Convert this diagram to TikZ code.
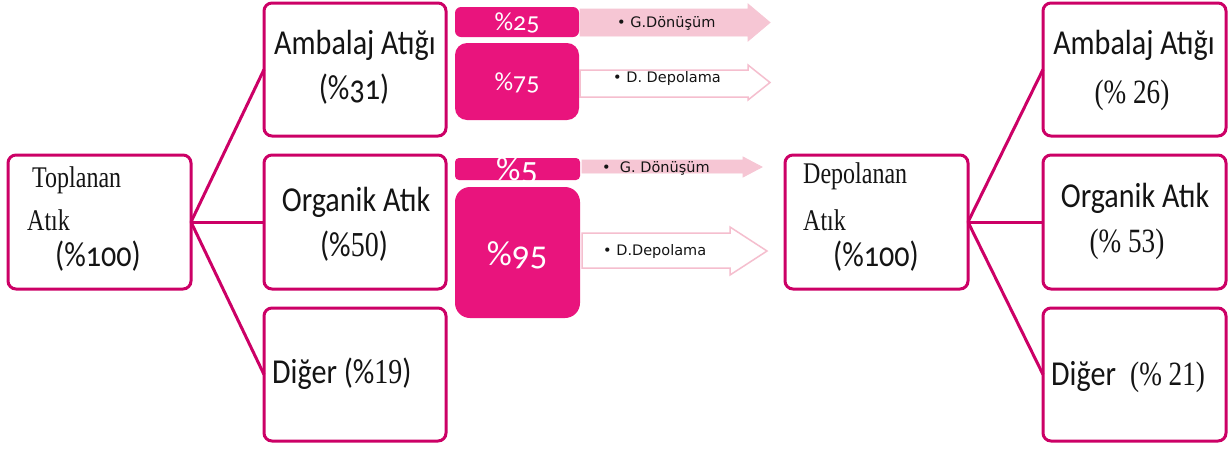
\documentclass[tikz,border=0pt]{standalone}
\usepackage{fontspec}
\newfontfamily\calf[FakeStretch=0.86]{Carlito}
\newfontfamily\calold[FakeStretch=0.86,Numbers=OldStyle]{Carlito}
\newfontfamily\pinkf[Numbers=OldStyle]{Carlito}
\newfontfamily\tmsf[FakeStretch=0.8]{Liberation Serif}
\newfontfamily\lblf{DejaVu Sans}
\definecolor{frame}{RGB}{204,0,102}
\definecolor{hotpink}{RGB}{233,20,125}
\definecolor{palepink}{RGB}{246,198,212}
\definecolor{arrowline}{RGB}{245,190,206}
\definecolor{ink}{RGB}{20,20,20}
\tikzset{
  wbox/.style={draw=frame, line width=3pt, rounded corners=8pt, fill=white, outer sep=0pt},
  pbox/.style={fill=hotpink, rounded corners=#1},
  pbox/.default=7pt,
  link/.style={draw=frame, line width=3pt},
  fullarrow/.style={fill=palepink, draw=palepink, line width=0.8pt},
  openarrow/.style={fill=white, draw=arrowline, line width=1.5pt},
  big/.style={font=\calf\fontsize{35}{37}\selectfont, text=ink, inner sep=0pt},
  bigold/.style={font=\calold\fontsize{35}{37}\selectfont, text=ink, inner sep=0pt},
  serif/.style={font=\tmsf\fontsize{30}{32}\selectfont, text=ink, inner sep=0pt},
  serifbig/.style={font=\tmsf\fontsize{34}{36}\selectfont, text=ink, inner sep=0pt},
  pct/.style={font=\pinkf\fontsize{#1}{#1}\selectfont, text=white, inner sep=0pt},
  lbl/.style={font=\lblf\fontsize{14.5}{16}\selectfont, text=ink, inner sep=0pt, anchor=base west},
}
\begin{document}
\begin{tikzpicture}[x=1pt,y=-1pt]
\useasboundingbox[fill=white] (0,0) rectangle (1229,448);

% main boxes
\node[wbox, minimum width=183pt, minimum height=134pt] (top)  at (99.5,222) {};
\node[wbox, minimum width=182pt, minimum height=133pt] (ambL) at (355,69.5) {};
\node[wbox, minimum width=182pt, minimum height=134pt] (orgL) at (355,222) {};
\node[wbox, minimum width=182pt, minimum height=133pt] (digL) at (355,374.5) {};
\node[wbox, minimum width=183pt, minimum height=134pt] (dep)  at (876.5,222) {};
\node[wbox, minimum width=183pt, minimum height=133pt] (ambR) at (1134.5,69.5) {};
\node[wbox, minimum width=183pt, minimum height=134pt] (orgR) at (1134.5,222) {};
\node[wbox, minimum width=183pt, minimum height=133pt] (digR) at (1134.5,374.5) {};

% connectors
\draw[link] (top.east) -- (ambL.west);
\draw[link] (top.east) -- (orgL.west);
\draw[link] (top.east) -- (digL.west);
\draw[link] (dep.east) -- (ambR.west);
\draw[link] (dep.east) -- (orgR.west);
\draw[link] (dep.east) -- (digR.west);

% arrows
\draw[fullarrow] (580,9) -- (748,9) -- (748,4) -- (770,22.5) -- (748,41) -- (748,36) -- (580,36) -- cycle;
\draw[openarrow] (580,70) -- (748,70) -- (748,65) -- (770,82.5) -- (748,100) -- (748,97) -- (580,97) -- cycle;
\draw[fullarrow] (582,160) -- (743,160) -- (743,157) -- (762,167) -- (743,177) -- (743,173) -- (582,173) -- cycle;
\draw[openarrow] (582,233) -- (730,233) -- (730,227) -- (767,251) -- (730,275) -- (730,268) -- (582,268) -- cycle;

% pink share boxes
\node[pbox=6pt, minimum width=124pt, minimum height=30pt, inner sep=0pt] (p25) at (517,22) {};
\node[pbox=12pt, minimum width=124pt, minimum height=77pt, inner sep=0pt] (p75) at (517,81.5) {};
\node[pbox=4pt, minimum width=125pt, minimum height=22pt, inner sep=0pt] (p5) at (517.5,169) {};
\node[pbox=15pt, minimum width=125pt, minimum height=131pt, inner sep=0pt] (p95) at (517.5,252.5) {};
\node[pct=26, anchor=center] (t25) at (517,23) {\%25};
\node[pct=26, anchor=center] (t75) at (517,83) {\%75};
\node[pct=34, anchor=base] (t5) at (517,180) {\%5};
\node[pct=35, anchor=center] (t95) at (517,255) {\%95};

% arrow labels
\node[lbl] (l1) at (617,27) {\textbullet\ G.Dönüşüm};
\node[lbl] (l2) at (613,82) {\textbullet\ D. Depolama};
\node[lbl] (l3) at (602,172) {\textbullet\ \ G. Dönüşüm};
\node[lbl] (l4) at (603,255) {\textbullet\ D.Depolama};

% left column texts
\node[serif, anchor=base west] (tA) at (32,187) {Toplanan};
\node[serif, anchor=base west] (tB) at (27,230) {Atık};
\node[bigold, anchor=base west] (tC) at (55,266) {(\%100)};

\node[big, anchor=base] (aL1) at (355,54) {Ambalaj Atığı};
\node[bigold, anchor=base] (aL2) at (354,99) {(\%31)};
\node[big, anchor=base] (oL1) at (356,211) {Organik Atık};
\node[big, anchor=base] (oL2) at (354,256) {(\%{\tmsf 50})};
\node[big, anchor=base west] (dL) at (272,383) {Diğer (\%{\tmsf 19})};

% right column texts
\node[serif, anchor=base west] (dA) at (803,183) {Depolanan};
\node[serif, anchor=base west] (dB) at (803,230) {Atık};
\node[bigold, anchor=base west] (dC) at (833,266) {(\%100)};

\node[big, anchor=base] (aR1) at (1134,54) {Ambalaj Atığı};
\node[serifbig, anchor=base] (aR2) at (1132,103) {(\% 26)};
\node[big, anchor=base] (oR1) at (1135,207) {Organik Atık};
\node[serifbig, anchor=base] (oR2) at (1127,252) {(\% 53)};
\node[big, anchor=base west] (dR1) at (1051,385) {Diğer};
\node[serifbig, anchor=base west] (dR2) at (1130,385) {(\% 21)};
\end{tikzpicture}
\end{document}
